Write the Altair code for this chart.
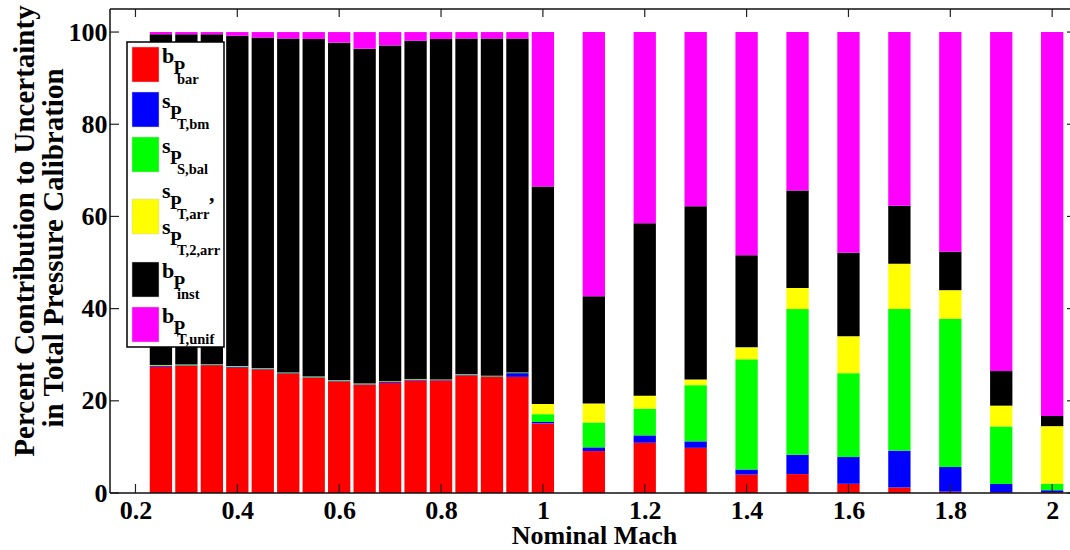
import altair as alt
import pandas as pd

# Nominal Mach numbers of the calibration points
mach = [0.25, 0.30, 0.35, 0.40, 0.45, 0.50, 0.55, 0.60, 0.65, 0.70,
        0.75, 0.80, 0.85, 0.90, 0.95,
        1.0, 1.1, 1.2, 1.3, 1.4, 1.5, 1.6, 1.7, 1.8, 1.9, 2.0]

# Percent contribution of each uncertainty source (bottom to top of stack)
b_p_bar = [27.4, 27.6, 27.7, 27.2, 26.8, 25.9, 25.0, 24.2, 23.5, 23.9,
           24.4, 24.4, 25.5, 25.2, 25.2,
           15.1, 9.1, 10.9, 9.8, 4.0, 4.1, 2.0, 1.2, 0.3, 0.15, 0.2]
s_pt_bm = [0.2, 0.1, 0.1, 0.2, 0.1, 0.1, 0.1, 0.1, 0.1, 0.2,
           0.2, 0.1, 0.1, 0.1, 0.8,
           0.3, 0.8, 1.6, 1.4, 1.1, 4.2, 5.8, 8.0, 5.35, 1.8, 0.4]
s_ps_bal = [0.1, 0.1, 0.1, 0.1, 0.1, 0.1, 0.1, 0.1, 0.1, 0.1,
            0.1, 0.1, 0.1, 0.1, 0.1,
            1.7, 5.4, 5.8, 12.2, 23.9, 31.6, 18.2, 30.7, 32.15, 12.5, 1.4]
s_pt_arr = [0.05, 0.05, 0.05, 0.05, 0.05, 0.05, 0.05, 0.05, 0.05, 0.05,
            0.05, 0.05, 0.05, 0.05, 0.05,
            2.2, 4.1, 2.8, 1.2, 2.6, 4.6, 8.0, 9.85, 6.2, 4.5, 12.5]
b_p_inst = [71.75, 71.65, 71.55, 71.65, 71.75, 72.45, 73.25, 73.25, 72.65, 72.85,
            73.35, 73.85, 72.85, 73.15, 72.45,
            47.2, 23.3, 37.4, 37.6, 20.0, 21.1, 18.1, 12.55, 8.35, 7.5, 2.2]
b_pt_unif = [0.5, 0.5, 0.5, 0.8, 1.2, 1.4, 1.5, 2.3, 3.6, 2.9,
             1.9, 1.5, 1.4, 1.4, 1.4,
             33.5, 57.3, 41.5, 37.8, 48.4, 34.4, 47.9, 37.7, 47.65, 73.55, 83.3]

names = ["b_P_bar", "s_PT_bm", "s_PS_bal", "s_PT_arr", "b_P_inst", "b_PT_unif"]
series = [b_p_bar, s_pt_bm, s_ps_bal, s_pt_arr, b_p_inst, b_pt_unif]
colors = ["#ff0000", "#0000ff", "#00ff00", "#ffff00", "#000000", "#ff00ff"]

x_ticks = [0.2, 0.4, 0.6, 0.8, 1.0, 1.2, 1.4, 1.6, 1.8, 2.0]
y_ticks = [0, 20, 40, 60, 80, 100]
y_title_lines = ["Percent Contribution to Uncertainty", "in Total Pressure Calibration"]

rows = []
for k, (name, vals) in enumerate(zip(names, series)):
    for m, v in zip(mach, vals):
        rows.append({"mach": m, "component": name, "order": k, "value": v})
df = pd.DataFrame(rows)

W, H = 960, 484
HALF = 0.0219          # half bar width in Mach units
FONT = "Liberation Serif"

x_scale = alt.Scale(domain=[0.15, 2.035], nice=False, zero=False)
y_scale = alt.Scale(domain=[0, 105], nice=False, zero=True)
color_scale = alt.Scale(domain=names, range=colors)

x_axis = alt.Axis(
    values=x_ticks, format="~g", title="Nominal Mach", grid=False, ticks=False,
    domain=False, labelFont=FONT, labelFontSize=26, labelFontWeight="bold",
    labelColor="black", labelPadding=4, labelOverlap=False, labelFlush=False,
    titleFont=FONT, titleFontSize=26, titleFontWeight="bold", titleColor="black",
    titleX=484, titleY=50, titleBaseline="alphabetic", titleAlign="center",
)
y_axis = alt.Axis(
    values=y_ticks, title=None,
    grid=False, ticks=False, domain=False, labelFont=FONT, labelFontSize=26,
    labelFontWeight="bold", labelColor="black", labelPadding=3, labelOverlap=False,
    labelFlush=False,
)

bars = alt.Chart(df).transform_window(
    top="sum(value)", groupby=["mach"], sort=[alt.SortField("order")], frame=[None, 0]
).transform_calculate(
    bottom="datum.top - datum.value",
    lo=f"datum.mach - {HALF}",
    hi=f"datum.mach + {HALF}",
).mark_bar(strokeWidth=0).encode(
    x=alt.X("lo:Q", scale=x_scale, axis=x_axis),
    x2="hi:Q",
    y=alt.Y("bottom:Q", scale=y_scale, axis=y_axis),
    y2="top:Q",
    color=alt.Color("component:N", scale=color_scale, legend=None),
)

# Inward tick marks on all four sides, and the axes box
xt = alt.Chart(pd.DataFrame({"t": x_ticks}))
yt = alt.Chart(pd.DataFrame({"t": y_ticks}))
tick_style = dict(color="#222222", strokeWidth=1.2)
x_top = xt.mark_rule(**tick_style).encode(
    x=alt.X("t:Q", scale=x_scale, axis=x_axis), y=alt.value(0), y2=alt.value(8))
x_bot = xt.mark_rule(**tick_style).encode(
    x=alt.X("t:Q", scale=x_scale, axis=x_axis), y=alt.value(H), y2=alt.value(H - 9))
y_left = yt.mark_rule(**tick_style).encode(
    y=alt.Y("t:Q", scale=y_scale, axis=y_axis), x=alt.value(0), x2=alt.value(9))
y_right = yt.mark_rule(**tick_style).encode(
    y=alt.Y("t:Q", scale=y_scale, axis=y_axis), x=alt.value(W - 3), x2=alt.value(W))

one = alt.Chart(pd.DataFrame({"a": [0]}))
frame_style = dict(color="#111111", strokeWidth=1.5)
frame_left = one.mark_rule(**frame_style).encode(x=alt.value(0), y=alt.value(0), y2=alt.value(H))
frame_top = one.mark_rule(**frame_style).encode(x=alt.value(0), x2=alt.value(W + 5), y=alt.value(0))
frame_bot = one.mark_rule(**frame_style).encode(x=alt.value(0), x2=alt.value(W + 5), y=alt.value(H))

# Two-line y-axis title, rotated
y_title = [
    one.mark_text(text=y_title_lines[0], font=FONT, fontWeight="bold", fontSize=29,
                  color="black", angle=270, align="center", baseline="middle"
                  ).encode(x=alt.value(-85), y=alt.value(222)),
    one.mark_text(text=y_title_lines[1], font=FONT, fontWeight="bold", fontSize=29,
                  color="black", angle=270, align="center", baseline="middle"
                  ).encode(x=alt.value(-56), y=alt.value(239)),
]

# Legend box with TeX-style subscripted labels
legend_layers = [one.mark_rect(fill="white", stroke="black", strokeWidth=1.5).encode(
    x=alt.value(17), x2=alt.value(114), y=alt.value(33), y2=alt.value(338))]

sw_tops = [38, 83, 128, 190, 253, 298]
for top, col in zip(sw_tops, colors):
    legend_layers.append(one.mark_rect(fill=col, stroke="#cccccc", strokeWidth=0.5).encode(
        x=alt.value(22), x2=alt.value(49), y=alt.value(top), y2=alt.value(top + 35)))


def piece(txt, px, py, fs):
    legend_layers.append(one.mark_text(
        text=txt, font=FONT, fontWeight="bold", fontSize=fs, color="black",
        align="left", baseline="alphabetic").encode(x=alt.value(px), y=alt.value(py)))


def label(main, sub, subsub, base):
    piece(main, 52, base, 22)
    piece(sub, 52 + (11.5 if main == "b" else 8), base + 11, 19)
    piece(subsub, 67, base + 21, 14.5)


label("b", "P", "bar", sw_tops[0] + 16)
label("s", "P", "T,bm", sw_tops[1] + 16)
label("s", "P", "S,bal", sw_tops[2] + 16)
label("s", "P", "T,arr", sw_tops[3] - 1)
piece(",", 99, sw_tops[3] + 2, 22)
label("s", "P", "T,2,arr", sw_tops[3] + 35)
label("b", "P", "inst", sw_tops[4] + 16)
label("b", "P", "T,unif", sw_tops[5] + 16)

chart = alt.layer(
    bars, x_top, x_bot, y_left, y_right, frame_left, frame_top, frame_bot,
    *y_title, *legend_layers,
).properties(
    width=W, height=H,
    padding={"left": 110, "top": 9, "right": 0, "bottom": 57},
    autosize=alt.AutoSizeParams(type="none"),
    background="white",
).configure_view(stroke=None)

chart.save("out.html", embed_options={"renderer": "svg", "actions": False})
